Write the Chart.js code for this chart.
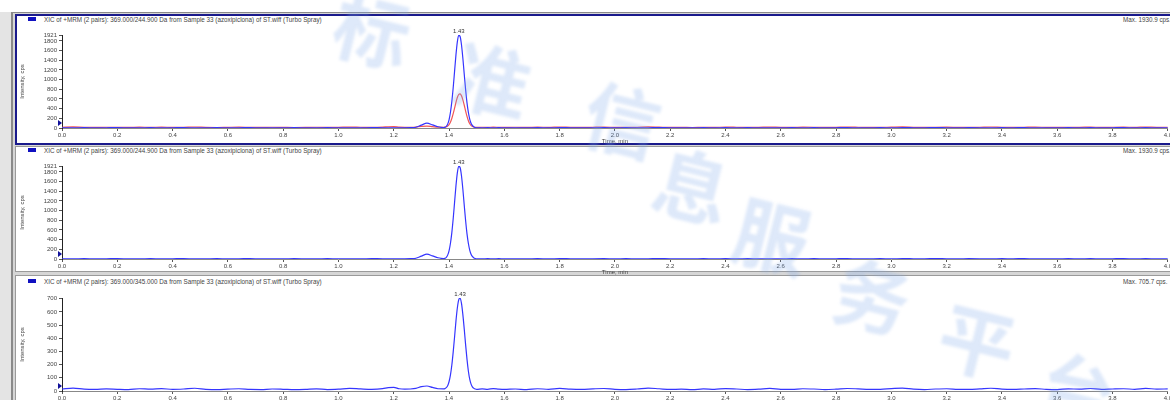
<!DOCTYPE html>
<html><head><meta charset="utf-8">
<script src="https://cdn.jsdelivr.net/npm/chart.js@4.4.1/dist/chart.umd.min.js"></script>
<style>
html,body{margin:0;padding:0;width:1170px;height:400px;overflow:hidden;background:#fff;font-family:"Liberation Sans",Arial,sans-serif;}
.a{position:absolute;}
.hdr{position:absolute;font-size:6.3px;color:#444;white-space:nowrap;}
.sq{position:absolute;width:8px;height:4px;background:#1010c0;}
.wm{position:absolute;font-family:"Noto Sans CJK SC",sans-serif;font-weight:bold;font-size:76px;color:#7fa9ea;opacity:0.26;transform:rotate(14deg);filter:blur(1.5px);pointer-events:none;z-index:10;}
canvas{position:absolute;}
</style></head><body>
<div class="a" style="left:0;top:12px;width:11px;height:388px;background:#e4e4e4"></div>
<div class="a" style="left:11px;top:12px;width:2px;height:388px;background:#8a8a8a"></div>
<div class="a" style="left:11px;top:12px;width:1159px;height:1px;background:#8a8a8a"></div>
<div class="a" style="left:13px;top:13px;width:1157px;height:387px;background:#d6d6d6"></div>
<div class="a" style="left:15px;top:14px;width:1160px;height:127px;background:#fff;border:2px solid #1a1a8c;box-sizing:content-box"></div>
<div class="a" style="left:15px;top:146px;width:1160px;height:124px;background:#fff;border:1px solid #9a9a9a"></div>
<div class="a" style="left:15px;top:275px;width:1160px;height:130px;background:#fff;border:1px solid #9a9a9a"></div>

<div class="sq" style="left:28px;top:17px"></div>
<div class="hdr" style="left:44px;top:16px" id="t1"></div>
<div class="hdr" style="left:1123px;top:16px" id="m1"></div>
<div class="sq" style="left:28px;top:148px"></div>
<div class="hdr" style="left:44px;top:147px" id="t2"></div>
<div class="hdr" style="left:1123px;top:147px" id="m2"></div>
<div class="sq" style="left:28px;top:279px"></div>
<div class="hdr" style="left:44px;top:278px" id="t3"></div>
<div class="hdr" style="left:1123px;top:278px" id="m3"></div>

<canvas id="c1" width="1158" height="132" style="left:15px;top:13px"></canvas>
<canvas id="c2" width="1158" height="131" style="left:15px;top:145px"></canvas>
<canvas id="c3" width="1158" height="133" style="left:15px;top:275px"></canvas>

<div class="wm" style="left:335px;top:-28px">标</div>
<div class="wm" style="left:455px;top:22px">准</div>
<div class="wm" style="left:585px;top:62px">信</div>
<div class="wm" style="left:655px;top:128px">息</div>
<div class="wm" style="left:735px;top:178px">服</div>
<div class="wm" style="left:835px;top:238px">务</div>
<div class="wm" style="left:940px;top:283px">平</div>
<div class="wm" style="left:1040px;top:333px">台</div>

<script>
// ---- data ----
const titles = [
  "XIC of +MRM (2 pairs): 369.000/244.900 Da  from Sample 33 (azoxipiclona) of ST.wiff (Turbo Spray)",
  "XIC of +MRM (2 pairs): 369.000/244.900 Da  from Sample 33 (azoxipiclona) of ST.wiff (Turbo Spray)",
  "XIC of +MRM (2 pairs): 369.000/345.000 Da  from Sample 33 (azoxipiclona) of ST.wiff (Turbo Spray)"
];
const maxTexts = ["Max. 1930.9 cps.", "Max. 1930.9 cps.", "Max. 705.7 cps."];
const peakLabel = "1.43";
const xTicks = [0.0,0.2,0.4,0.6,0.8,1.0,1.2,1.4,1.6,1.8,2.0,2.2,2.4,2.6,2.8,3.0,3.2,3.4,3.6,3.8,4.0];
const yTicksA = [0,200,400,600,800,1000,1200,1400,1600,1800,1921];
const yTicksB = [0,100,200,300,400,500,600,700];

const times = [
  0,0.04,0.08,0.12,0.16,0.2,0.24,0.28,0.32,0.36,0.4,0.44,0.48,0.52,0.56,0.6,0.64,0.68,0.72,0.76,0.8,0.84,0.88,0.92,0.96,1,1.04,1.08,1.12,1.16,
  1.18,1.2,1.22,1.24,1.26,1.28,1.3,1.32,1.34,1.36,1.38,
  1.385,1.39,1.395,1.4,1.405,1.41,1.415,1.42,1.425,1.43,1.435,1.44,1.445,1.45,1.455,1.46,1.465,1.47,1.475,1.48,1.485,1.49,1.495,1.5,
  1.52,1.54,1.56,1.58,1.6,
  1.64,1.68,1.72,1.76,1.8,1.84,1.88,1.92,1.96,2,2.04,2.08,2.12,2.16,2.2,2.24,2.28,2.32,2.36,2.4,2.44,2.48,2.52,2.56,2.6,2.64,2.68,2.72,2.76,2.8,
  2.84,2.88,2.92,2.96,3,3.04,3.08,3.12,3.16,3.2,3.24,3.28,3.32,3.36,3.4,3.44,3.48,3.52,3.56,3.6,3.64,3.68,3.72,3.76,3.8,3.84,3.88,3.92,3.96,4
];
const xic244 = [
  5,3,7,2,4,8,3,1,6,2,5,9,2,4,7,3,4,8,1,5,3,6,4,2,7,3,5,2,8,4,
  4,3,5,4,6,15,60,100,65,25,9,
  12,35,80,170,320,540,830,1170,1510,1780,1915,1890,1720,1440,1110,790,520,320,180,95,48,22,10,5,
  3,6,2,7,4,
  5,2,6,3,8,4,1,5,7,3,6,2,4,9,3,5,2,7,4,6,3,8,2,5,4,7,3,6,1,5,
  8,3,4,6,2,7,5,3,9,4,2,6,5,3,7,4,8,2,5,3,6,4,7,2,5,8,3,6,4,5
];
const xic345 = [
  15,22,14,12,16,13,11,17,14,18,12,15,21,13,10,14,17,12,11,15,13,10,12,16,11,14,20,16,13,18,
  26,28,17,14,15,20,33,38,27,17,16,
  18,25,40,70,120,195,295,410,530,630,692,705,665,580,470,350,240,150,88,50,30,20,15,13,
  16,13,18,14,12,
  15,11,17,13,20,14,12,16,19,13,11,15,22,17,12,14,10,16,13,18,15,11,14,20,13,12,17,15,11,14,
  19,16,12,13,18,22,14,11,15,17,13,12,16,21,14,12,15,18,13,11,16,14,19,12,15,17,13,20,14,16
];

// ---- rendering ----
['t1','t2','t3'].forEach((id,i)=>document.getElementById(id).textContent=titles[i]);
['m1','m2','m3'].forEach((id,i)=>document.getElementById(id).textContent=maxTexts[i]);

const BLUE = '#3535ff', RED = '#f05555';
const FONT = {family:'"Liberation Sans", Arial, sans-serif', size:6};

const decor = {
  id:'decor',
  afterDatasetsDraw(chart){
    const ctx = chart.ctx, xs = chart.scales.x, ys = chart.scales.y;
    const d = chart.data.datasets[0].data;
    let best = d[0];
    for (const p of d) if (p.y > best.y) best = p;
    ctx.save();
    ctx.fillStyle = '#333';
    ctx.font = '6px "Liberation Sans", Arial, sans-serif';
    ctx.textAlign = 'center'; ctx.textBaseline = 'bottom';
    ctx.fillText(peakLabel, xs.getPixelForValue(best.x), ys.getPixelForValue(best.y) - 1);
    const l = chart.chartArea.left, b = ys.getPixelForValue(0);
    ctx.fillStyle = '#10109a';
    ctx.beginPath(); ctx.moveTo(l-4, b-8); ctx.lineTo(l-4, b-2); ctx.lineTo(l, b-5); ctx.closePath(); ctx.fill();
    ctx.restore();
  }
};

function pts(arr){ return times.map((t,i)=>({x:t, y:arr[i]})); }

function make(id, series, colors, yMax, yTicks, topPad){
  new Chart(document.getElementById(id), {
    type:'line',
    data:{datasets: series.map((s,i)=>({data:pts(s), borderColor:colors[i], borderWidth:1.2, pointRadius:0, cubicInterpolationMode:'monotone', fill:false}))},
    options:{
      responsive:false, animation:false, events:[],
      layout:{padding:{top:topPad, right:0, left:0, bottom:0}},
      plugins:{legend:{display:false}, tooltip:{enabled:false}},
      scales:{
        x:{type:'linear', min:0, max:4.0,
           afterBuildTicks:s=>{s.ticks = xTicks.map(v=>({value:v}));},
           afterFit:s=>{s.height = 17;},
           ticks:{font:FONT, color:'#444', padding:1, autoSkip:false, maxRotation:0, callback:v=>v.toFixed(1)},
           grid:{drawOnChartArea:false, drawTicks:true, tickLength:3, color:'#555'},
           border:{color:'#888', width:1},
           title:{display:true, text:'Time, min', font:FONT, color:'#444', padding:{top:0,bottom:0}}},
        y:{type:'linear', min:0, max:yMax,
           afterBuildTicks:s=>{s.ticks = yTicks.map(v=>({value:v}));},
           afterFit:s=>{s.width = 47;},
           ticks:{font:FONT, color:'#444', padding:2, autoSkip:false, callback:v=>String(v)},
           grid:{drawOnChartArea:false, drawTicks:true, tickLength:3, color:'#555'},
           border:{color:'#222', width:1},
           title:{display:true, text:'Intensity, cps', font:FONT, color:'#444', padding:{top:4,bottom:0}}}
      }
    },
    plugins:[decor]
  });
}

make('c1', [xic244, xic345], [BLUE, RED], 1921, yTicksA, 22);
make('c2', [xic244], [BLUE], 1921, yTicksA, 21);
make('c3', [xic345], [BLUE], 705.7, yTicksB, 23);
</script>
</body></html>
